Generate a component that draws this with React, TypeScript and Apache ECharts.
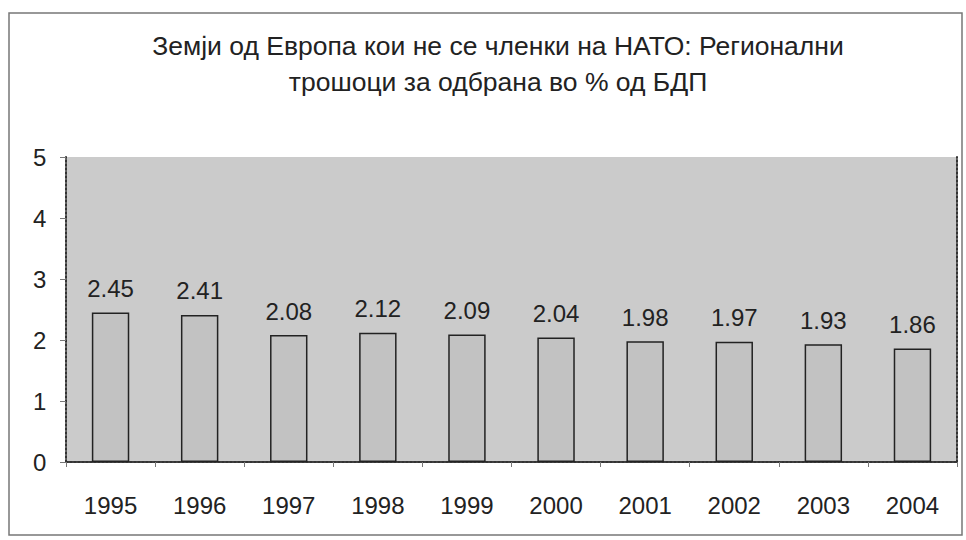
import React, { useEffect, useRef } from "react";
import * as echarts from "echarts";

const years = ["1995", "1996", "1997", "1998", "1999", "2000", "2001", "2002", "2003", "2004"];
const values = [2.45, 2.41, 2.08, 2.12, 2.09, 2.04, 1.98, 1.97, 1.93, 1.86];
const titleText = "Земји од Европа кои не се членки на НАТО: Регионални\nтрошоци за одбрана во % од БДП";

export default function App() {
  const ref = useRef<HTMLDivElement>(null);
  useEffect(() => {
    const chart = echarts.init(ref.current!, null, { renderer: "svg" });
    const font = "'Liberation Sans', Arial, sans-serif";
    const dotted = { color: "#333", width: 2, type: [2, 2] as any };
    chart.setOption({
      animation: false,
      backgroundColor: "#ffffff",
      title: {
        text: titleText,
        left: 493,
        textAlign: "center",
        top: 23,
        textStyle: { fontFamily: font, fontSize: 26.5, fontWeight: "normal", color: "#222", lineHeight: 36 },
      },
      graphic: [
        {
          type: "rect",
          shape: { x: 9, y: 13, width: 953, height: 522 },
          style: { fill: "none", stroke: "#777", lineWidth: 1.5 },
          silent: true,
          z: -1,
        },
      ],
      grid: {
        left: 66,
        right: 9,
        top: 157,
        bottom: 78,
        show: true,
        backgroundColor: "#cbcbcb",
        borderWidth: 0,
      },
      xAxis: [
        {
          type: "category",
          data: years,
          axisLine: { show: true, lineStyle: dotted },
          axisTick: { show: true, length: 5, lineStyle: { color: "#777" } },
          axisLabel: { fontFamily: font, fontSize: 24, color: "#222", margin: 31 },
        },
        {
          type: "category",
          data: years,
          position: "top",
          axisLine: { show: true, lineStyle: dotted },
          axisTick: { show: false },
          axisLabel: { show: false },
        },
      ],
      yAxis: [
        {
          type: "value",
          min: 0,
          max: 5,
          interval: 1,
          axisLine: { show: true, lineStyle: dotted },
          axisTick: { show: true, length: 6, lineStyle: { color: "#777" } },
          splitLine: { show: false },
          axisLabel: { fontFamily: font, fontSize: 24, color: "#222", margin: 33, align: "left" },
        },
        {
          type: "value",
          min: 0,
          max: 5,
          interval: 1,
          position: "right",
          axisLine: { show: true, lineStyle: dotted },
          axisTick: { show: false },
          splitLine: { show: false },
          axisLabel: { show: false },
        },
      ],
      series: [
        {
          type: "bar",
          data: values,
          barWidth: "42%",
          itemStyle: { color: "#c2c2c2", borderColor: "#222", borderWidth: 1.5 },
          label: {
            show: true,
            position: "top",
            distance: 12,
            fontFamily: font,
            fontSize: 24,
            color: "#222",
            formatter: (p: any) => String(p.value),
          },
        },
      ],
    });
    return () => chart.dispose();
  }, []);
  return <div ref={ref} style={{ position: "fixed", left: 0, top: 0, width: 966, height: 540 }} />;
}
